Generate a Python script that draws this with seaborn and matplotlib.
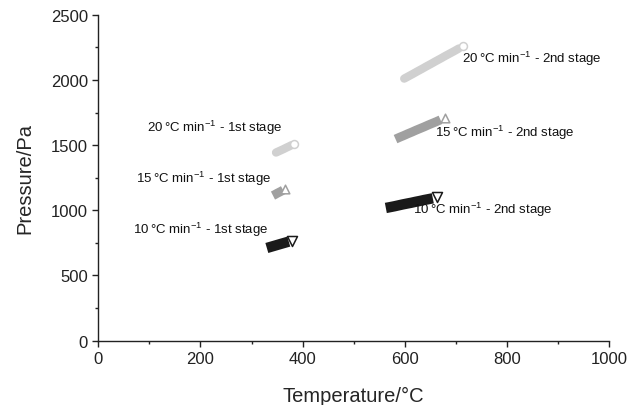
import pandas as pd
import matplotlib.pyplot as plt
import seaborn as sns

# heating rate runs, temperature (°C) vs pressure (Pa)
t20_s1 = [348, 353, 358, 363, 368, 373, 378, 383]
p20_s1 = [1443, 1452, 1461, 1470, 1480, 1489, 1499, 1508]
t15_s1 = [342, 346, 350, 354, 358, 362, 366]
p15_s1 = [1113, 1121, 1130, 1138, 1146, 1155, 1163]
t10_s1 = [330, 337, 344, 351, 358, 366, 373, 380]
p10_s1 = [711, 719, 727, 735, 743, 752, 760, 768]

t20_s2 = [599, 607, 616, 625, 634, 643, 652, 661, 670, 679, 688, 697, 706, 714]
p20_s2 = [2010, 2027, 2046, 2066, 2085, 2105, 2124, 2144, 2163, 2183, 2202, 2221, 2241, 2259]
t15_s2 = [582, 590, 598, 606, 614, 622, 630, 638, 646, 654, 662, 670, 678]
p15_s2 = [1546, 1560, 1573, 1587, 1600, 1614, 1627, 1640, 1654, 1667, 1680, 1694, 1707]
t10_s2 = [563, 571, 580, 588, 596, 605, 613, 621, 630, 638, 646, 655, 663]
p10_s2 = [1018, 1024, 1031, 1038, 1045, 1052, 1058, 1065, 1072, 1079, 1085, 1092, 1099]

sns.set_style('ticks')
plt.rcParams['font.family'] = ['Liberation Sans', 'DejaVu Sans']
plt.rcParams['mathtext.fontset'] = 'custom'
plt.rcParams['mathtext.rm'] = 'Liberation Sans'
plt.rcParams['mathtext.it'] = 'Liberation Sans:italic'
plt.rcParams['axes.unicode_minus'] = True

fig = plt.figure(figsize=(6.27, 4.06), dpi=100)
ax = fig.add_axes([0.1568, 0.1584, 0.8145, 0.8029])

# (temps, pressures, colour, marker, line width, cap style)
series = [
    (t20_s1, p20_s1, '#d0d0d0', 'o', 6, 'round'),
    (t15_s1, p15_s1, '#a0a0a0', '^', 6.5, 'butt'),
    (t10_s1, p10_s1, '#1a1a1a', 'v', 7.5, 'butt'),
    (t20_s2, p20_s2, '#d0d0d0', 'o', 6, 'round'),
    (t15_s2, p15_s2, '#a0a0a0', '^', 6.5, 'butt'),
    (t10_s2, p10_s2, '#1a1a1a', 'v', 7.5, 'butt'),
]

for t, p, col, mk, lw, cap in series:
    df = pd.DataFrame({'T': t, 'P': p})
    body = df.iloc[:-1]
    sns.lineplot(data=body, x='T', y='P', ax=ax, color=col, linewidth=lw,
                 sort=False, solid_capstyle=cap, legend=False)
    # last reading drawn hollow
    sns.scatterplot(data=df.iloc[-1:], x='T', y='P', ax=ax, marker=mk,
                    s=(lw - 0.3) ** 2, facecolor='white', edgecolor=col,
                    linewidth=1.1, zorder=5, legend=False)

lab_kw = dict(fontsize=9.5, va='center', ha='left', color='#111111')
ax.text(95, 1636, '20\u2009°C min$^{-1}$ - 1st stage', **lab_kw)
ax.text(74, 1245, '15\u2009°C min$^{-1}$ - 1st stage', **lab_kw)
ax.text(68, 856, '10\u2009°C min$^{-1}$ - 1st stage', **lab_kw)
ax.text(712, 2165, '20\u2009°C min$^{-1}$ - 2nd stage', **lab_kw)
ax.text(659, 1600, '15\u2009°C min$^{-1}$ - 2nd stage', **lab_kw)
ax.text(617, 1010, '10\u2009°C min$^{-1}$ - 2nd stage', **lab_kw)

ax.set_xlim(0, 1000)
ax.set_ylim(0, 2500)
ax.set_xticks(range(0, 1001, 200))
ax.set_xticks(range(100, 1000, 200), minor=True)
ax.set_yticks(range(0, 2501, 500))
ax.set_yticks(range(250, 2500, 500), minor=True)
ax.tick_params(which='major', direction='out', length=4, width=1, labelsize=12,
               colors='#222222')
ax.tick_params(which='minor', direction='out', length=2.5, width=1, colors='#222222')
ax.set_xlabel('Temperature/°C', fontsize=14.5, labelpad=14)
ax.set_ylabel('Pressure/Pa', fontsize=14.5, labelpad=12)
for s in ['left', 'bottom']:
    ax.spines[s].set_color('#222222')
    ax.spines[s].set_linewidth(1)
sns.despine(ax=ax)
ax.grid(False)

fig.savefig('out.png', dpi=100)
